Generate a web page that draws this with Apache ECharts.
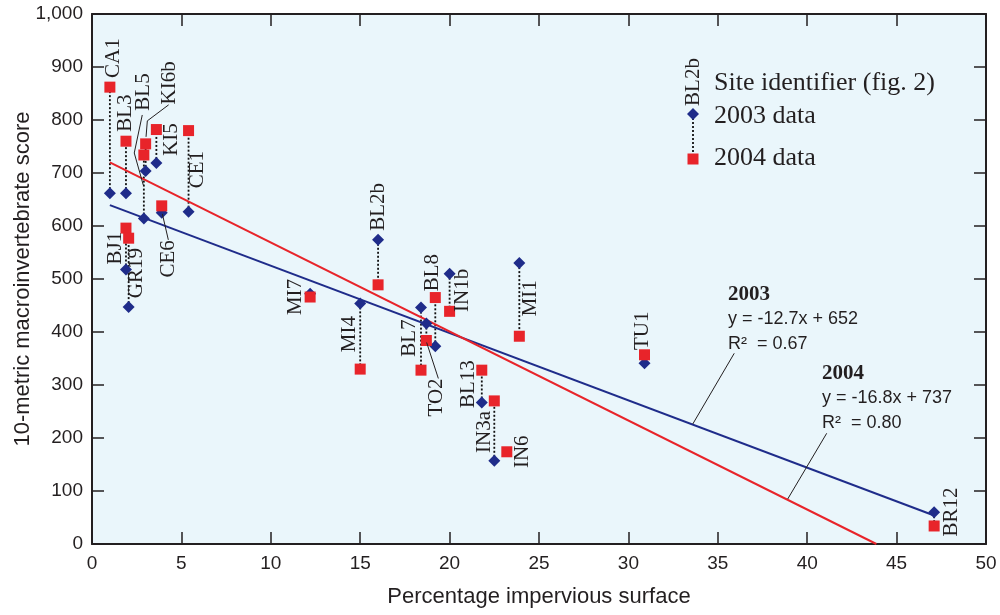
<!DOCTYPE html>
<html><head><meta charset="utf-8">
<script src="https://cdn.jsdelivr.net/npm/echarts@6/dist/echarts.min.js"></script>
<style>html,body{margin:0;padding:0;background:#fff}#c{width:1000px;height:615px}</style>
</head><body><div id="c"></div>
<script>
// ---- data ----
const sites      = ['CA1','BL3','BL5','KI6b','KI5','CE6','CE1','BJ1','GR19','MI7','MI4','BL2b','BL7','TO2','BL8','IN1b','BL13','IN3a','IN6','MI1','TU1','BR12'];
const impervious = [1.0, 1.9, 2.9, 3.0, 3.6, 3.9, 5.4, 1.9, 2.05, 12.2, 15.0, 16.0, 18.4, 18.7, 19.2, 20.0, 21.8, 22.5, 23.2, 23.9, 30.9, 47.1];
const score2003  = [662, 662, 614, 704, 719, 625, 627, 518, 447, 472, 454, 574, 446, 416, 373, 510, 267, 157, null, 530, 341, 60];
const score2004  = [862, 760, 734, 755, 782, 638, 780, 596, 577, 466, 330, 489, 328, 384, 465, 439, 328, 270, 174, 392, 357, 34];
const trend2003  = [[1, 639.3], [47.1, 53.8]];
const trend2004  = [[1, 720.2], [43.87, 0]];
const eq2003 = ['2003', 'y = -12.7x + 652', 'R\u00B2  = 0.67'];
const eq2004 = ['2004', 'y = -16.8x + 737', 'R\u00B2  = 0.80'];
const xTicks = [0, 5, 10, 15, 20, 25, 30, 35, 40, 45, 50];
const yTicks = [0, 100, 200, 300, 400, 500, 600, 700, 800, 900, 1000];
const legendTexts = ['Site identifier (fig. 2)', '2003 data', '2004 data'];

// ---- placement (pixel offsets relative to each site's 2004 point) ----
const labelOffsets = {
  CA1:[4,-29], BL3:[0,-28], BL5:[0,-63], KI6b:[24,-61], KI5:[15,10], CE6:[7,53], CE1:[9,39],
  BJ1:[-10,20], GR19:[8,35], MI7:[-15,0], MI4:[-11,-35], BL2b:[0,-78], BL7:[-12,-32], TO2:[10,57],
  BL8:[-3,-25], IN1b:[13,-21], BL13:[-13,14], IN3a:[-10,31], IN6:[16,0], MI1:[11,-38], TU1:[-2,-24], BR12:[17,-14]
};
const leaders = {
  BL5: [[-1.6,-40],[-9.6,-2],[-0.6,30]],
  KI6b: [[23,-39],[1.7,-23],[0.4,-7]],
  CE6: [[0.6,8],[6.6,34]],
  TO2: [[0.3,2],[12,38]]
};

const INK = '#231f20', RED = '#E8242A', BLUE = '#1F2C8A';
const sans = '"Liberation Sans", Arial, sans-serif';
const serif = '"Liberation Serif", "Times New Roman", serif';

const chart = echarts.init(document.getElementById('c'), null, {renderer: 'canvas'});

const pts2003 = [], pts2004 = [], pairs = [];
sites.forEach((s, i) => {
  if (score2003[i] != null) pts2003.push([impervious[i], score2003[i], s]);
  pts2004.push([impervious[i], score2004[i], s]);
  pairs.push([impervious[i], score2003[i] == null ? score2004[i] : score2003[i], score2004[i], s]);
});

const axisCommon = {
  axisLine: {show: true, onZero: false, lineStyle: {color: INK, width: 2}},
  axisTick: {show: true, inside: true, length: 12, lineStyle: {color: INK, width: 1.5}},
  splitLine: {show: false}
};

const option = {
  animation: false,
  backgroundColor: '#ffffff',
  grid: {left: 92, right: 14, top: 14, bottom: 71, show: true, backgroundColor: '#EAF6FB', borderWidth: 0,
    containLabel: false, outerBoundsMode: 'none'},
  xAxis: [
    Object.assign({type: 'value', min: xTicks[0], max: xTicks[xTicks.length-1], interval: 5, position: 'bottom',
      axisLabel: {margin: 10, fontFamily: sans, fontSize: 19, color: INK},
      name: 'Percentage impervious surface', nameLocation: 'middle', nameGap: 42, nameMoveOverlap: false,
      nameTextStyle: {fontFamily: sans, fontSize: 22, color: INK}}, axisCommon),
    Object.assign({type: 'value', min: 0, max: 50, interval: 5, position: 'top', axisLabel: {show: false}}, axisCommon)
  ],
  yAxis: [
    Object.assign({type: 'value', min: yTicks[0], max: yTicks[yTicks.length-1], interval: 100, position: 'left',
      axisLabel: {margin: 9, fontFamily: sans, fontSize: 19, color: INK,
        formatter: v => v >= 1000 ? (Math.floor(v/1000) + ',' + String(v%1000).padStart(3,'0')) : String(v)},
      name: '10-metric macroinvertebrate score', nameLocation: 'middle', nameGap: 58, nameRotate: 90, nameMoveOverlap: false,
      nameTextStyle: {fontFamily: sans, fontSize: 22, color: INK}}, axisCommon),
    Object.assign({type: 'value', min: 0, max: 1000, interval: 100, position: 'right', axisLabel: {show: false}}, axisCommon)
  ],
  series: [
    {
      type: 'custom', name: 'connectors', xAxisIndex: 0, yAxisIndex: 0, clip: false, silent: true, z: 2,
      data: pairs,
      renderItem: (params, api) => {
        const a = api.coord([api.value(0), api.value(1)]);
        const b = api.coord([api.value(0), api.value(2)]);
        return {type: 'line', shape: {x1: a[0], y1: a[1], x2: b[0], y2: b[1]},
          style: {stroke: '#111', lineWidth: 1.8, lineDash: [2, 2]}};
      }
    },
    {
      type: 'line', name: '2003 trend', data: trend2003, showSymbol: false, symbol: 'none', z: 3,
      lineStyle: {color: BLUE, width: 2}, silent: true,
      markLine: {silent: true, symbol: 'none', label: {show: false}, lineStyle: {color: INK, width: 1, type: 'solid'},
        data: [[{coord: [35.92, 359.8]}, {coord: [33.6, 226.4]}]]}
    },
    {
      type: 'line', name: '2004 trend', data: trend2004, showSymbol: false, symbol: 'none', z: 3,
      lineStyle: {color: RED, width: 2}, silent: true,
      markLine: {silent: true, symbol: 'none', label: {show: false}, lineStyle: {color: INK, width: 1, type: 'solid'},
        data: [[{coord: [41.09, 208.9]}, {coord: [38.91, 84.9]}]]}
    },
    {
      type: 'scatter', name: '2003 data', data: pts2003, symbol: 'diamond', symbolSize: [12, 12], z: 4,
      itemStyle: {color: BLUE, opacity: 1}
    },
    {
      type: 'scatter', name: '2004 data', data: pts2004, symbol: 'rect', symbolSize: [11, 11], z: 5,
      itemStyle: {color: RED, opacity: 1}
    },
    {
      type: 'custom', name: 'labels', xAxisIndex: 0, yAxisIndex: 0, clip: false, silent: true, z: 6,
      data: pts2004,
      renderItem: (params, api) => {
        const name = sites[params.dataIndex];
        const p = api.coord([api.value(0), api.value(1)]);
        const off = labelOffsets[name] || [0, -30];
        const children = [{
          type: 'text', x: p[0] + off[0], y: p[1] + off[1], rotation: Math.PI / 2,
          style: {text: name, fontFamily: serif, fontSize: 21, fill: INK, align: 'center', verticalAlign: 'middle'}
        }];
        if (leaders[name]) {
          children.push({type: 'polyline', shape: {points: leaders[name].map(o => [p[0] + o[0], p[1] + o[1]])},
            style: {stroke: INK, lineWidth: 1, fill: null}});
        }
        return {type: 'group', children};
      }
    }
  ],
  graphic: [
    {type: 'text', x: 693, y: 82, rotation: Math.PI / 2, style: {text: 'BL2b', fontFamily: serif, fontSize: 21, fill: INK, align: 'center', verticalAlign: 'middle'}},
    {type: 'line', shape: {x1: 693, y1: 114, x2: 693, y2: 159}, style: {stroke: '#111', lineWidth: 1.8, lineDash: [2, 2]}},
    {type: 'polygon', shape: {points: [[693, 108], [699, 114], [693, 120], [687, 114]]}, style: {fill: BLUE}},
    {type: 'rect', shape: {x: 687.5, y: 153.5, width: 11, height: 11}, style: {fill: RED}},
    {type: 'text', x: 714, y: 83, style: {text: legendTexts[0], fontFamily: serif, fontSize: 26, fill: INK, verticalAlign: 'middle'}},
    {type: 'text', x: 714, y: 116, style: {text: legendTexts[1], fontFamily: serif, fontSize: 26, fill: INK, verticalAlign: 'middle'}},
    {type: 'text', x: 714, y: 158, style: {text: legendTexts[2], fontFamily: serif, fontSize: 26, fill: INK, verticalAlign: 'middle'}},
    {type: 'text', x: 728, y: 295, style: {text: eq2003[0], fontFamily: serif, fontWeight: 'bold', fontSize: 21, fill: INK, verticalAlign: 'middle'}},
    {type: 'text', x: 728, y: 319, style: {text: eq2003[1], fontFamily: sans, fontSize: 18, fill: INK, verticalAlign: 'middle'}},
    {type: 'text', x: 728, y: 344, style: {text: eq2003[2], fontFamily: sans, fontSize: 18, fill: INK, verticalAlign: 'middle'}},
    {type: 'text', x: 822, y: 374, style: {text: eq2004[0], fontFamily: serif, fontWeight: 'bold', fontSize: 21, fill: INK, verticalAlign: 'middle'}},
    {type: 'text', x: 822, y: 398, style: {text: eq2004[1], fontFamily: sans, fontSize: 18, fill: INK, verticalAlign: 'middle'}},
    {type: 'text', x: 822, y: 423, style: {text: eq2004[2], fontFamily: sans, fontSize: 18, fill: INK, verticalAlign: 'middle'}}
  ]
};
chart.setOption(option);
</script>
</body></html>
